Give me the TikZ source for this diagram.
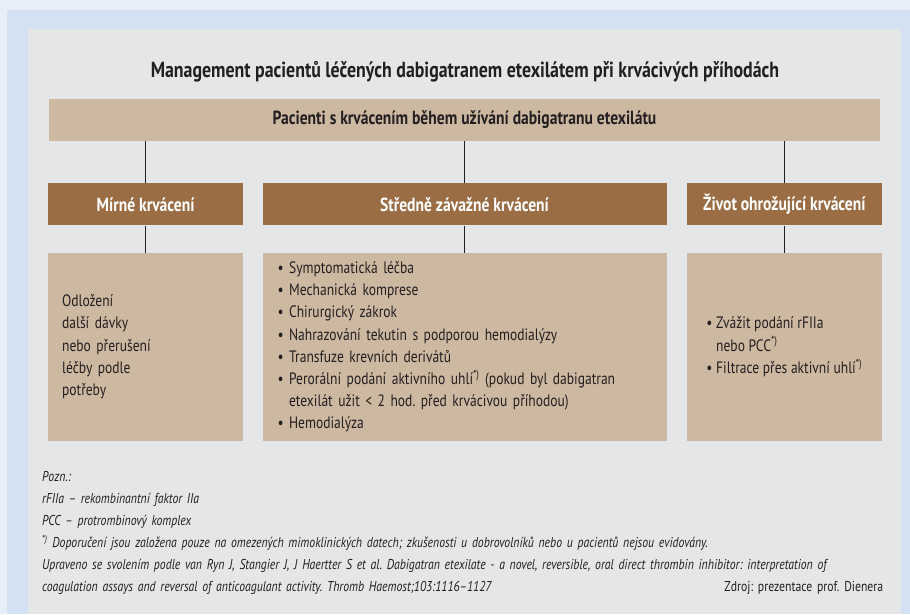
\documentclass[tikz,border=0pt]{standalone}
\usepackage{fontspec}
\setmainfont{PT Sans}[FakeStretch=0.82]
\usepackage{xcolor}
\usepackage{tikz}
\usetikzlibrary{positioning}
\frenchspacing

\definecolor{pagebg}{HTML}{E8EFF9}
\definecolor{framebg}{HTML}{D4E1F2}
\definecolor{panelbg}{HTML}{E5E6E8}
\definecolor{boxtan}{HTML}{CDB8A1}
\definecolor{hdrbrown}{HTML}{9A6D45}
\definecolor{ink}{HTML}{231F20}

\begin{document}
\begin{tikzpicture}[
    x=1pt, y=-1pt,
    node distance=19pt,
    tanbox/.style={fill=boxtan, text=ink, inner sep=0pt},
    hdr/.style={fill=hdrbrown, text=white, inner sep=0pt, minimum height=42pt, font=\fontsize{19}{20}\selectfont\bfseries},
    txtbox/.style={tanbox, minimum height=188pt, align=left, font=\fontsize{16.5}{22.2}\selectfont},
    conn/.style={draw=ink, line width=0.9pt}
]
    % background frame
    \fill[pagebg] (0,0) rectangle (910,614);
    \fill[framebg] (7,10) rectangle (910,614);
    \fill[panelbg] (28,29) rectangle (901,614);

    \node[text=ink, font=\fontsize{21.8}{22}\selectfont\bfseries] (title) at (465,72) {Management pacientů léčených dabigatranem etexilátem při krvácivých příhodách};

    \node[tanbox, minimum width=831pt, minimum height=42pt, font=\fontsize{19}{20}\selectfont\bfseries] (pat) at (464.5,120) {Pacienti s krvácením během užívání dabigatranu etexilátu};

    % severity headers
    \node[hdr, minimum width=404pt, below=42pt of pat] (mid) {Středně závažné krvácení};
    \node[hdr, minimum width=195pt, left=19pt of mid] (mild) {Mírné krvácení};
    \node[hdr, minimum width=195pt, right=20pt of mid] (life) {Život ohrožující krvácení};

    % measures
    \node[txtbox, text width=167pt, inner xsep=14pt, below=27pt of mild] (mild-tx) {Odložení\\další dávky\\nebo přerušení\\léčby podle\\potřeby};
    \node[txtbox, text width=374pt, inner xsep=15pt, below=27pt of mid] (mid-tx) {\textbullet~Symptomatická léčba\\
        \textbullet~Mechanická komprese\\
        \textbullet~Chirurgický zákrok\\
        \textbullet~Nahrazování tekutin s podporou hemodialýzy\\
        \textbullet~Transfuze krevních derivátů\\
        \textbullet~Perorální podání aktivního uhlí\textsuperscript{*)} (pokud byl dabigatran\\
        \phantom{\textbullet~}etexilát užit < 2 hod. před krvácivou příhodou)\\
        \textbullet~Hemodialýza};
    \node[txtbox, minimum width=195pt, below=27pt of life] (life-tx) {\textbullet~Zvážit podání rFIIa\\
        \phantom{\textbullet~}nebo PCC\textsuperscript{*)}\\
        \textbullet~Filtrace přes aktivní uhlí\textsuperscript{*)}};

    \foreach \n in {mild,mid,life}{
        \draw[conn] (\n.north) -- (\n.north |- pat.south);
        \draw[conn] (\n.south) -- (\n-tx.north);
    }

    % notes
    \node[anchor=north west, inner sep=0pt, text=ink, text width=841pt, align=left, font=\fontsize{14.3}{22}\selectfont] (notes) at (42,471) {\textit{Pozn.:}\\
        \textit{rFIIa -- rekombinantní faktor IIa}\\
        \textit{PCC -- protrombinový komplex}\\
        \textit{\textsuperscript{*)} Doporučení jsou založena pouze na omezených mimoklinických datech; zkušenosti u dobrovolníků nebo u pacientů nejsou evidovány.}\\
        \textit{Upraveno se svolením podle van Ryn J, Stangier J, J Haertter S et al. Dabigatran etexilate - a novel, reversible, oral direct thrombin inhibitor: interpretation of}\\
        \textit{coagulation assays and reversal of anticoagulant activity. Thromb Haemost;103:1116--1127}\hfill Zdroj: prezentace prof. Dienera};
\end{tikzpicture}
\end{document}
